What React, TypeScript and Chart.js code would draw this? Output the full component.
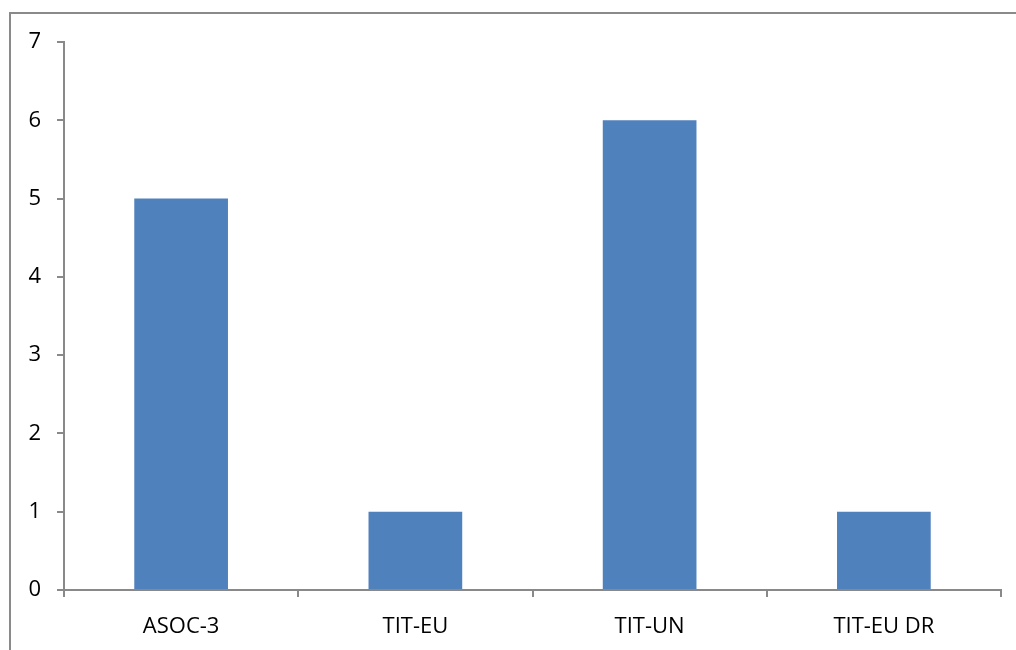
import React, { useEffect, useRef } from "react";
import { Chart, registerables } from "chart.js";

Chart.register(...registerables);

const categories = ["ASOC-3", "TIT-EU", "TIT-UN", "TIT-EU DR"];
const values = [5, 1, 6, 1];
const yMin = 0;
const yMax = 7;
const yStep = 1;

const AXIS_COLOR = "#898989";
const BAR_COLOR = "#4F81BD";
const FONT = { family: "'Open Sans', 'Liberation Sans', sans-serif", size: 22 };

const framePlugin = {
  id: "frame",
  beforeDraw(chart: any) {
    const ctx = chart.ctx;
    ctx.save();
    ctx.fillStyle = "#ffffff";
    ctx.fillRect(0, 0, chart.width, chart.height);
    ctx.strokeStyle = "#8a8a8a";
    ctx.lineWidth = 2;
    ctx.strokeRect(10, 13, chart.width + 20, chart.height + 20);
    ctx.restore();
  },
};

export default function App() {
  const ref = useRef<HTMLCanvasElement | null>(null);
  useEffect(() => {
    if (!ref.current) return;
    const chart = new Chart(ref.current, {
      type: "bar",
      data: {
        labels: categories,
        datasets: [
          {
            data: values,
            backgroundColor: BAR_COLOR,
            borderWidth: 0,
            barPercentage: 0.8,
            categoryPercentage: 0.5,
          },
        ],
      },
      options: {
        animation: false,
        responsive: false,
        maintainAspectRatio: false,
        layout: { padding: { top: 42, right: 15, left: 0, bottom: 0 } },
        plugins: { legend: { display: false }, tooltip: { enabled: false } },
        scales: {
          x: {
            offset: true,
            grid: {
              offset: true,
              drawOnChartArea: false,
              drawTicks: true,
              tickLength: 7,
              color: AXIS_COLOR,
              lineWidth: 2,
            },
            border: { color: AXIS_COLOR, width: 2 },
            ticks: { color: "#000", font: FONT, padding: 17, maxRotation: 0 },
            afterFit(scale: any) {
              scale.height = 60;
            },
          },
          y: {
            min: yMin,
            max: yMax,
            grid: {
              drawOnChartArea: false,
              drawTicks: true,
              tickLength: 7,
              color: AXIS_COLOR,
              lineWidth: 2,
            },
            border: { color: AXIS_COLOR, width: 2 },
            ticks: { stepSize: yStep, color: "#000", font: FONT, padding: 16 },
            afterFit(scale: any) {
              scale.width = 64;
            },
          },
        },
      },
      plugins: [framePlugin],
    });
    return () => chart.destroy();
  }, []);
  return (
    <div style={{ position: "absolute", left: 0, top: 0, width: 1016, height: 650 }}>
      <canvas ref={ref} width={1016} height={650} style={{ display: "block" }} />
    </div>
  );
}
